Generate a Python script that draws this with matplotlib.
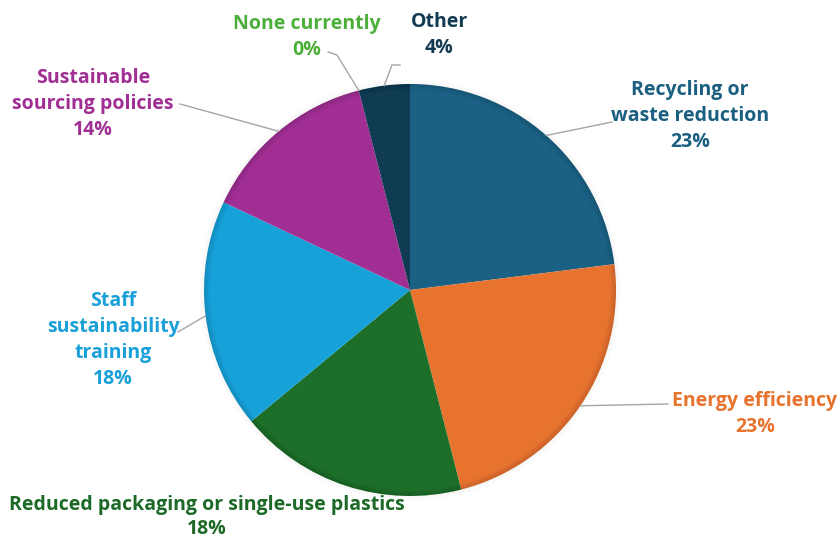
import numpy as np
import matplotlib
matplotlib.use("Agg")
import matplotlib.pyplot as plt
from matplotlib.patches import Wedge

plt.rcParams['font.family'] = ['Open Sans', 'DejaVu Sans']

# Share of responses per sustainability initiative
categories = ['Recycling or\nwaste reduction', 'Energy efficiency',
              'Reduced packaging or single-use plastics',
              'Staff\nsustainability\ntraining',
              'Sustainable\nsourcing policies', 'None currently', 'Other']
shares = [23, 23, 18, 18, 14, 0, 4]
colors = ['#1B6185', '#E8732F', '#1D6E29', '#17A1D9', '#A02E93', '#4CAF3A', '#0F3B53']
text_colors = ['#1B5F80', '#E8732F', '#1D6A28', '#1AA0D8', '#A02E93', '#4CAF3A', '#123B52']

# label anchor (pixels from top-left) and where the leader line leaves the text
label_pos = [(690, 116), (755, 414), (207, 517), (113, 340), (93, 104), (307, 37), (439, 35)]
label_spacing = [1.42, 1.42, 1.3, 1.42, 1.42, 1.42, 1.42]
leader_from = [(612, 122), (668, 404), None, (178, 332), (180, 104), (328, 52), (400, 65)]
leader_knee = [None, None, None, None, None, (337, 55), (392, 65)]

W, H = 840, 538
cx, cy, R = 410, 290, 206

fig = plt.figure(figsize=(W / 100, H / 100), dpi=100)
ax = fig.add_axes([0, 0, 1, 1])

wedges, _ = ax.pie(shares, colors=colors, startangle=90, counterclock=False,
                   radius=R, center=(cx, H - cy), frame=True,
                   wedgeprops=dict(linewidth=0))
ax.set_xlim(0, W)
ax.set_ylim(0, H)
ax.set_aspect('equal')
ax.axis('off')

# soft darkening toward the rim
for i in range(6):
    ax.add_patch(Wedge((cx, H - cy), R, 0, 360, width=1.0 * (i + 1),
                       facecolor='black', alpha=0.02, linewidth=0, zorder=3))
# faint halo outside the rim
for i in range(5):
    ax.add_patch(Wedge((cx, H - cy), R + 1.0 * (i + 1), 0, 360, width=1.0,
                       facecolor='black', alpha=0.035 * (5 - i) / 5, linewidth=0, zorder=0))

for w, lab, val, tc, pos, ls, lf, kn in zip(wedges, categories, shares, text_colors,
                                            label_pos, label_spacing, leader_from, leader_knee):
    ax.text(pos[0], H - pos[1], f'{lab}\n{val}%', ha='center', va='center',
            fontsize=14, fontweight='bold', color=tc, linespacing=ls, zorder=5)
    if lf is None:
        continue
    mid = np.deg2rad((w.theta1 + w.theta2) / 2)
    ex = cx + R * np.cos(mid)
    ey = (H - cy) + R * np.sin(mid)
    xs = [lf[0]]
    ys = [H - lf[1]]
    if kn is not None:
        xs.append(kn[0])
        ys.append(H - kn[1])
    xs.append(ex)
    ys.append(ey)
    ax.plot(xs, ys, color='#A6A6A6', lw=1.0, zorder=4)

fig.savefig('out.png', dpi=100, facecolor='white')
